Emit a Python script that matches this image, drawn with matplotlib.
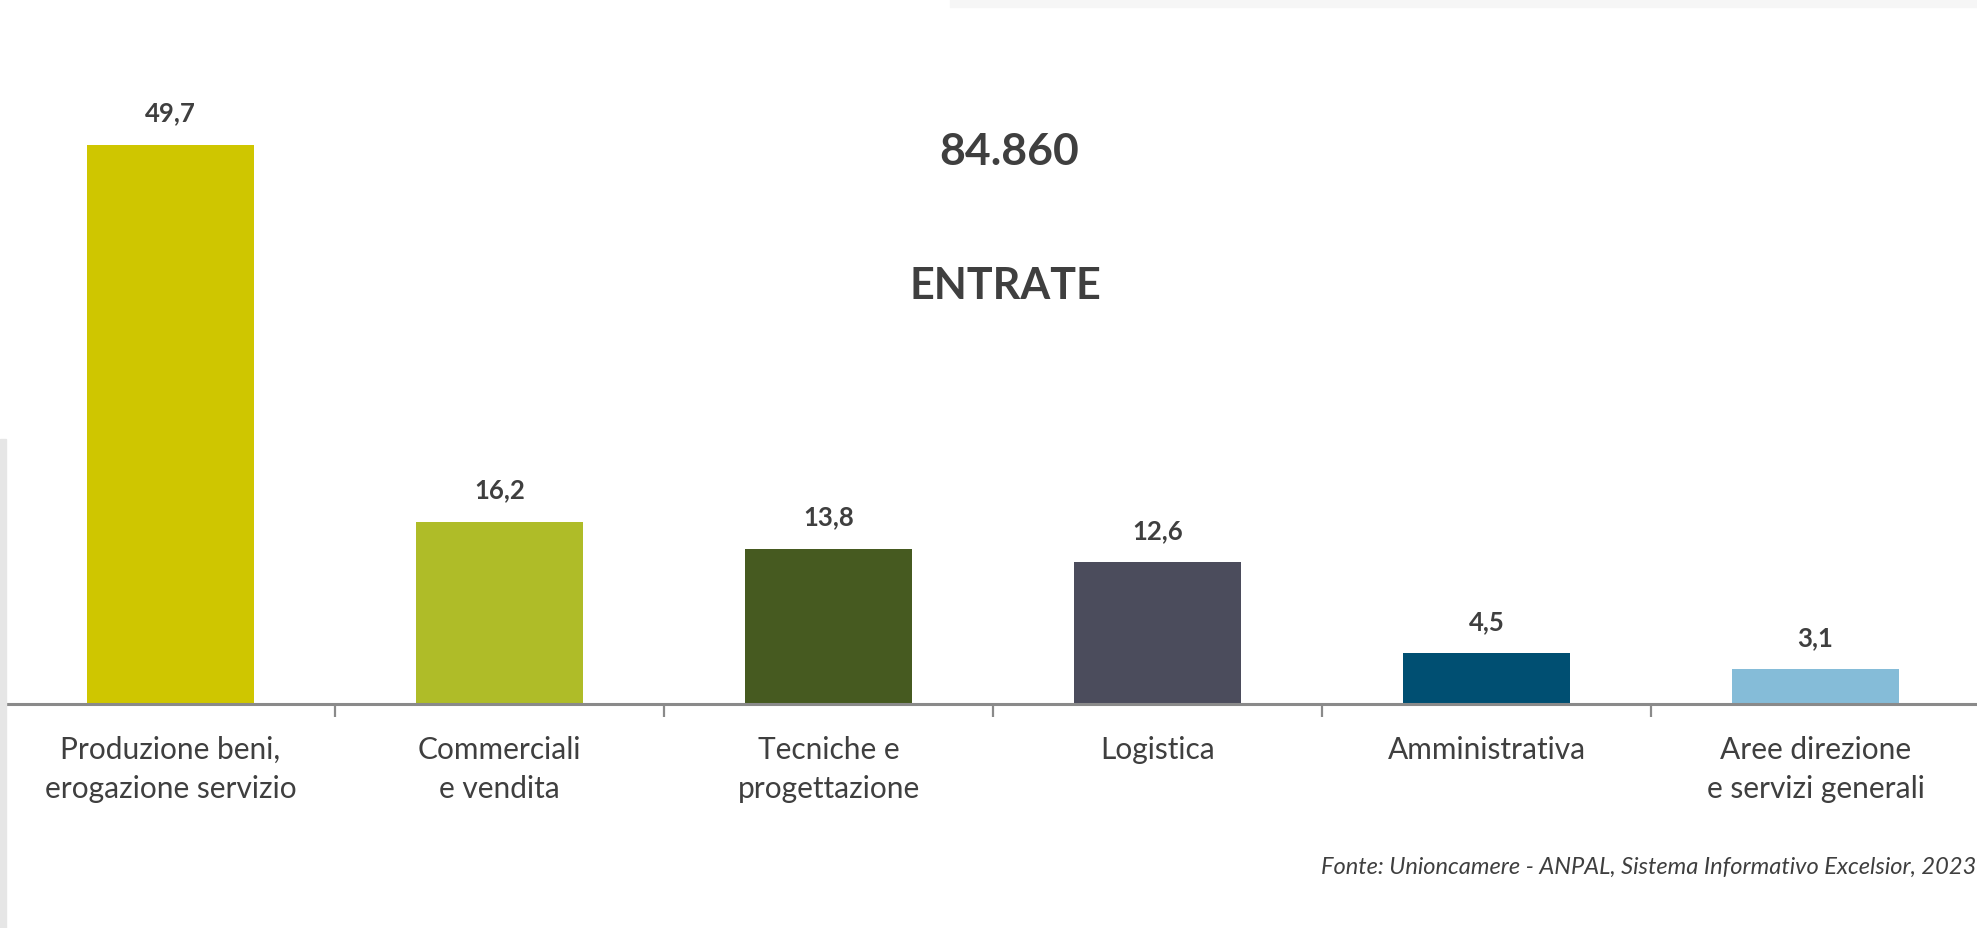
import matplotlib
matplotlib.use("Agg")
import matplotlib.pyplot as plt
from matplotlib.patches import Rectangle

# data
categories = ["Produzione beni,\nerogazione servizio", "Commerciali\ne vendita",
              "Tecniche e\nprogettazione", "Logistica", "Amministrativa",
              "Aree direzione\ne servizi generali"]
values = [49.7, 16.2, 13.8, 12.6, 4.5, 3.1]
bar_colors = ["#CFC600", "#AFBC28", "#465A20", "#4B4C5C", "#004F72", "#85BCD8"]
total_label = "84.860"
title_label = "ENTRATE"
source_note = "Fonte: Unioncamere - ANPAL, Sistema Informativo Excelsior, 2023"

plt.rcParams['font.family'] = ['Lato', 'DejaVu Sans']
TEXT = "#3F3F3F"
W, H = 1977, 929

fig = plt.figure(figsize=(W / 100, H / 100), dpi=100)
fig.patch.set_facecolor("white")

axis_y = 705  # pixel row of the baseline, from the top
ax = fig.add_axes([6 / W, (H - axis_y) / H, 1974 / W, axis_y / H])
ax.set_facecolor("none")

x = list(range(len(values)))
ax.bar(x, values, width=0.505, color=bar_colors, zorder=2)
ax.set_xlim(-0.5, 5.5)
ax.set_ylim(0, axis_y / 11.25)

for xi, v in zip(x, values):
    ax.annotate(("%.1f" % v).replace(".", ","), (xi, v), xytext=(0, 17.5),
                textcoords="offset points", ha="center", va="baseline",
                fontsize=18.5, fontweight="bold", color=TEXT)

for side in ["top", "left", "right"]:
    ax.spines[side].set_visible(False)
ax.spines["bottom"].set_color("#8A8A8A")
ax.spines["bottom"].set_linewidth(2.2)
ax.set_yticks([])

ax.set_xticks(x)
ax.set_xticklabels(categories, fontsize=21.5, color=TEXT, linespacing=1.5)
ax.tick_params(axis="x", which="major", length=0, pad=22)
ax.set_xticks([i + 0.5 for i in x[:-1]], minor=True)
ax.tick_params(axis="x", which="minor", length=9.5, width=1.6, color="#8A8A8A",
               direction="out")

fig.text(0.5105, 1 - 152 / H, total_label, ha="center", va="center",
         fontsize=32, fontweight="bold", color=TEXT)
fig.text(0.5085, 1 - 286 / H, title_label, ha="center", va="center",
         fontsize=31, fontweight="bold", color=TEXT)
fig.text(0.9995, 1 - 867 / H, source_note, ha="right", va="center",
         fontsize=17, style="italic", color=TEXT)

# faint scan artefacts along the edges
fig.patches.append(Rectangle((0, 0), 6 / W, 1 - 440 / H, transform=fig.transFigure,
                             color="#E6E6E6", zorder=0))
fig.patches.append(Rectangle((950 / W, 1 - 8 / H), 1 - 950 / W, 8 / H,
                             transform=fig.transFigure, color="#F6F6F6", zorder=0))

fig.savefig("out.png", dpi=100)
